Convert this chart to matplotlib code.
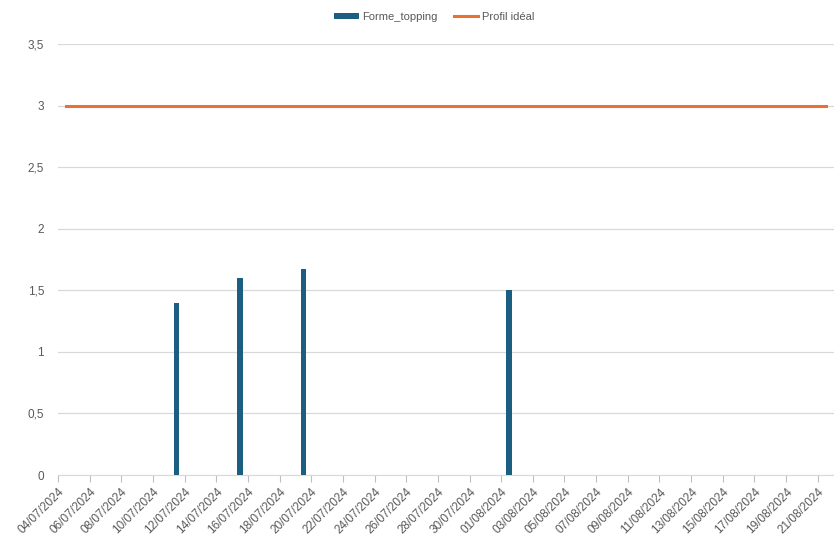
import matplotlib
matplotlib.use("Agg")
import matplotlib.pyplot as plt
import matplotlib.dates as mdates
from matplotlib.ticker import FuncFormatter
from datetime import datetime, timedelta

# Forme_topping measurements
bar_dates = [datetime(2024, 7, 11), datetime(2024, 7, 15), datetime(2024, 7, 19), datetime(2024, 8, 1)]
bar_values = [1.4, 1.6, 1.67, 1.5]

# Ideal profile (constant) over the whole period
start = datetime(2024, 7, 4)
end = datetime(2024, 8, 21)
ideal_value = 3

days = [start + timedelta(days=i) for i in range((end - start).days + 1)]
ideal = [ideal_value for _ in days]

grey = "#595959"
plt.rcParams['font.family'] = ['Liberation Sans Narrow', 'Liberation Sans', 'DejaVu Sans']

fig = plt.figure(figsize=(8.34, 5.45), dpi=100)
ax = fig.add_axes([0.0695, 0.1284, 0.93, 0.7906])

# each day is a slot; marks sit in the middle of their slot
half = timedelta(hours=12)
bars = ax.bar([d + half for d in bar_dates], bar_values, width=0.33, color="#1B5E82",
              label="Forme_topping", zorder=3)
line, = ax.plot([d + half for d in days], ideal, color="#E97132", linewidth=2.2,
                label="Profil idéal", zorder=4)

ax.set_ylim(0, 3.5)
ax.set_yticks([0, 0.5, 1, 1.5, 2, 2.5, 3, 3.5])
ax.yaxis.set_major_formatter(FuncFormatter(lambda v, p: f"{v:g}".replace(".", ",")))
ax.set_xlim(start, end + timedelta(days=1))
ticks = [start + timedelta(days=2 * i) for i in range(25)]
ax.set_xticks(ticks)
ax.xaxis.set_major_formatter(mdates.DateFormatter("%d/%m/%Y"))
plt.setp(ax.get_xticklabels(), rotation=45, ha="right", rotation_mode="anchor")

ax.grid(axis="y", color="#D9D9D9", linewidth=0.9, zorder=0)
for s in ["top", "right", "left"]:
    ax.spines[s].set_visible(False)
ax.spines["bottom"].set_color("#D9D9D9")
ax.tick_params(axis="x", colors="#BFBFBF", labelcolor=grey, labelsize=8.5, length=5, pad=3)
ax.tick_params(axis="y", length=0, labelcolor=grey, labelsize=8.5, pad=10)

leg = ax.legend([bars, line], ["Forme_topping", "Profil idéal"], loc="center",
                bbox_to_anchor=(0.485, 1.063), ncol=2, frameon=False,
                fontsize=8, handlelength=2.2, handleheight=0.5, columnspacing=1.5,
                handletextpad=0.3)
for t in leg.get_texts():
    t.set_color(grey)

fig.savefig("out.png", dpi=100)
